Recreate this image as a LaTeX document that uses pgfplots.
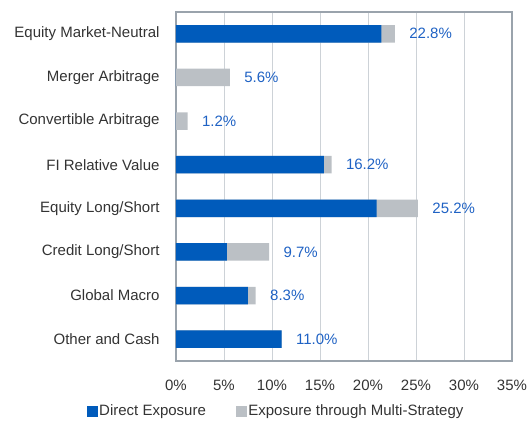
\documentclass[border=0pt]{standalone}
\usepackage{pgfplots}
\pgfplotsset{compat=1.18}
\usepackage{fontspec}
\setmainfont{Liberation Sans}
\definecolor{barblue}{HTML}{005BBB}
\definecolor{bargray}{HTML}{BBC0C5}
\definecolor{lblblue}{HTML}{1F62C4}
\definecolor{gridc}{HTML}{CDD2D7}
\definecolor{axisc}{HTML}{9AA3AC}
\definecolor{txt}{HTML}{333333}
\begin{document}
\begin{tikzpicture}
\useasboundingbox (-176bp,-60bp) rectangle (352bp,361bp);
\begin{axis}[
  at={(0,0)}, anchor=south west,
  scale only axis, width=336bp, height=349bp,
  xbar, bar width=17.5bp, bar shift=0pt,
  xmin=0, xmax=35, xtick={0,5,...,35},
  ymin=-0.5, ymax=7.5, y dir=reverse,
  ytick={0,...,7},
  yticklabels={Equity Market-Neutral,Merger Arbitrage,Convertible Arbitrage,FI Relative Value,Equity Long/Short,Credit Long/Short,Global Macro,Other and Cash},
  xticklabel={\pgfmathprintnumber{\tick}\%},
  /pgf/number format/assume math mode=true,
  xmajorgrids, major grid style={gridc, line width=1pt},
  axis line style={axisc, line width=1.2pt},
  major tick length=0pt,
  tick label style={font=\fontsize{15bp}{18bp}\selectfont, text=txt},
  yticklabel style={xshift=-13bp},
  xticklabel style={yshift=-16bp},
  legend style={draw=none, fill=none, at={(0.298,-0.143)}, anchor=center, legend columns=2,
    font=\fontsize{15bp}{18bp}\selectfont, text=txt, inner sep=0pt,
    /tikz/every even column/.append style={column sep=28bp},
    nodes={inner sep=2bp}},
]
\addlegendimage{legend image code/.code={\fill[barblue] (0bp,-5bp) rectangle (10bp,5bp);}}
\addlegendentry{Direct Exposure}
\addlegendimage{legend image code/.code={\fill[bargray] (0bp,-5bp) rectangle (10bp,5bp);}}
\addlegendentry{Exposure through Multi-Strategy}
% total exposure (direct + through multi-strategy), drawn in gray
\addplot[fill=bargray, draw=none, forget plot,
  nodes near coords={\pgfmathprintnumber[fixed,fixed zerofill,precision=1]{\pgfplotspointmeta}\%},
  every node near coord/.append style={anchor=west, xshift=11bp, text=lblblue, font=\fontsize{15bp}{18bp}\selectfont}]
  coordinates {(22.8,0) (5.6,1) (1.2,2) (16.2,3) (25.2,4) (9.7,5) (8.3,6) (11.0,7)};
% direct exposure, drawn in blue over it
\addplot[fill=barblue, draw=none, forget plot]
  coordinates {(21.4,0) (0,1) (0,2) (15.4,3) (20.9,4) (5.3,5) (7.5,6) (11.0,7)};
\end{axis}
\end{tikzpicture}
\end{document}
